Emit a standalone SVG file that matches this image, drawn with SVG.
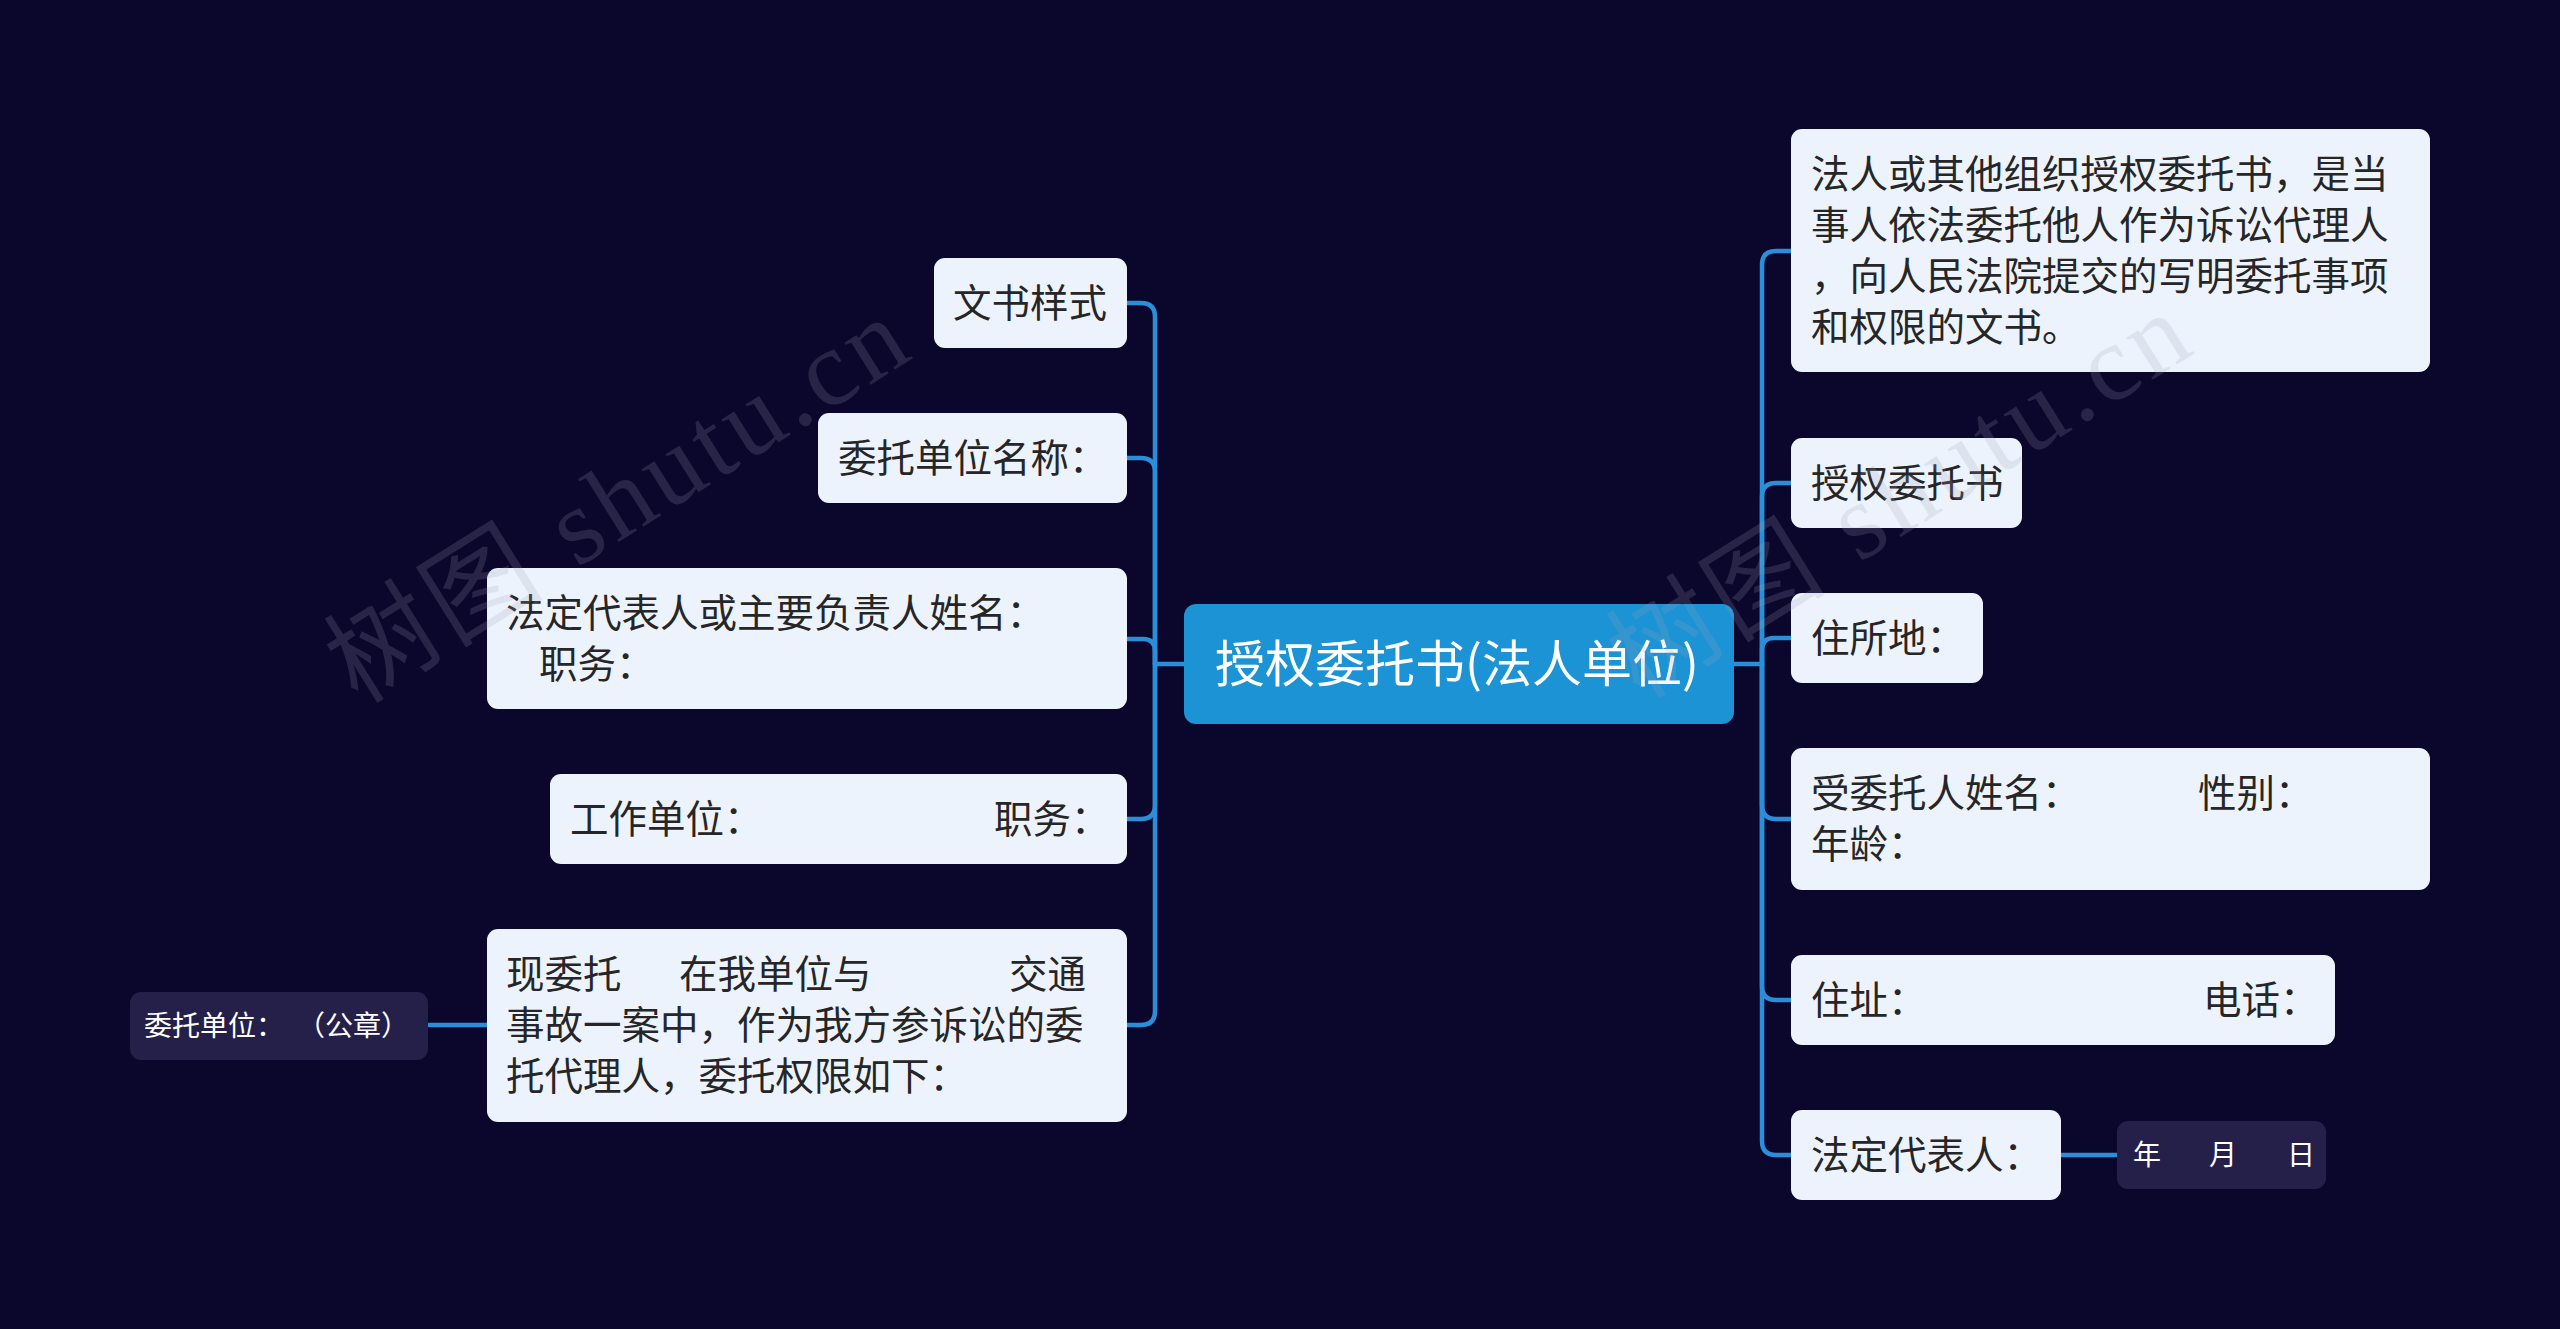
<svg xmlns="http://www.w3.org/2000/svg" width="2560" height="1329" viewBox="0 0 2560 1329">
<style>
.bg{fill:#0b062b}
.n{fill:#edf3fd}
.c{fill:#1b93d5}
.s{fill:#25204a}
.t{font-family:"Noto Sans CJK SC","Noto Sans",sans-serif;font-size:38.5px;fill:#262626}
.tc{font-family:"Noto Sans CJK SC","Noto Sans",sans-serif;font-size:50px;fill:#ffffff}
.ts{font-family:"Noto Sans CJK SC","Noto Sans",sans-serif;font-size:28px;fill:#ffffff}
.l{fill:none;stroke:#2a8fd8;stroke-width:4.5;stroke-linecap:round}
.wm{font-family:"Liberation Serif","Noto Sans CJK SC",serif;font-size:108px;fill:#a0a0b8;fill-opacity:0.2;letter-spacing:5px}
</style>
<rect class="bg" x="0" y="0" width="2560" height="1329"/>
<g id="connectors">
<path class="l" d="M1184,664 H1155"/>
<path class="l" d="M1155,664 V317 Q1155,303 1141,303 H1127"/>
<path class="l" d="M1155,664 V472 Q1155,458 1141,458 H1127"/>
<path class="l" d="M1155,664 V651 Q1155,639 1143,639 H1127"/>
<path class="l" d="M1155,664 V805 Q1155,819 1141,819 H1127"/>
<path class="l" d="M1155,664 V1011 Q1155,1025 1141,1025 H1127"/>
<path class="l" d="M429,1025 H487"/>
<path class="l" d="M1734,664 H1762"/>
<path class="l" d="M1762,664 V265 Q1762,251 1776,251 H1791"/>
<path class="l" d="M1762,664 V497 Q1762,483 1776,483 H1791"/>
<path class="l" d="M1762,664 V650 Q1762,638 1774,638 H1791"/>
<path class="l" d="M1762,664 V805 Q1762,819 1776,819 H1791"/>
<path class="l" d="M1762,664 V986 Q1762,1000 1776,1000 H1791"/>
<path class="l" d="M1762,664 V1141 Q1762,1155 1776,1155 H1791"/>
<path class="l" d="M2061,1155 H2117"/>
</g>
<g id="root">
<rect class="c" x="1184" y="604" width="550" height="120" rx="12"/>
<text class="tc" x="1457" y="682" text-anchor="middle">授权委托书(法人单位)</text>
</g>
<g id="n-wenshu">
<rect class="n" x="934" y="258" width="193" height="90" rx="11"/>
<text class="t" x="953" y="317">文书样式</text>
</g>
<g id="n-weituodanwei">
<rect class="n" x="818" y="413" width="309" height="90" rx="11"/>
<text class="t" x="838" y="472">委托单位名称：</text>
</g>
<g id="n-fadingdaibiao">
<rect class="n" x="487" y="568" width="640" height="141" rx="11"/>
<text class="t" x="506" y="627">法定代表人或主要负责人姓名：</text>
<text class="t" x="539" y="678">职务：</text>
</g>
<g id="n-gongzuo">
<rect class="n" x="550" y="774" width="577" height="90" rx="11"/>
<text class="t" x="570" y="833">工作单位：</text>
<text class="t" x="994" y="833">职务：</text>
</g>
<g id="n-xianweituo">
<rect class="n" x="487" y="929" width="640" height="193" rx="11"/>
<text class="t" x="506" y="988">现委托</text>
<text class="t" x="679" y="988">在我单位与</text>
<text class="t" x="1009" y="988">交通</text>
<text class="t" x="506" y="1039">事故一案中，作为我方参诉讼的委</text>
<text class="t" x="506" y="1090">托代理人，委托权限如下：</text>
</g>
<g id="n-gongzhang">
<rect class="s" x="130" y="992" width="298" height="68" rx="11"/>
<text class="ts" x="144" y="1036">委托单位：</text>
<text class="ts" x="297" y="1036">（公章）</text>
</g>
<g id="n-dingyi">
<rect class="n" x="1791" y="129" width="639" height="243" rx="11"/>
<text class="t" x="1811" y="188">法人或其他组织授权委托书，是当</text>
<text class="t" x="1811" y="239">事人依法委托他人作为诉讼代理人</text>
<text class="t" x="1811" y="290">，向人民法院提交的写明委托事项</text>
<text class="t" x="1811" y="341">和权限的文书。</text>
</g>
<g id="n-shouquan">
<rect class="n" x="1791" y="438" width="231" height="90" rx="11"/>
<text class="t" x="1811" y="497">授权委托书</text>
</g>
<g id="n-zhusuodi">
<rect class="n" x="1791" y="593" width="192" height="90" rx="11"/>
<text class="t" x="1811" y="652">住所地：</text>
</g>
<g id="n-shouweituoren">
<rect class="n" x="1791" y="748" width="639" height="142" rx="11"/>
<text class="t" x="1811" y="807">受委托人姓名：</text>
<text class="t" x="2198" y="807">性别：</text>
<text class="t" x="1811" y="858">年龄：</text>
</g>
<g id="n-zhuzhi">
<rect class="n" x="1791" y="955" width="544" height="90" rx="11"/>
<text class="t" x="1811" y="1014">住址：</text>
<text class="t" x="2203" y="1014">电话：</text>
</g>
<g id="n-fadingdaibiaoren">
<rect class="n" x="1791" y="1110" width="270" height="90" rx="11"/>
<text class="t" x="1811" y="1169">法定代表人：</text>
</g>
<g id="n-riqi">
<rect class="s" x="2117" y="1121" width="209" height="68" rx="11"/>
<text class="ts" x="2133" y="1165">年</text>
<text class="ts" x="2209" y="1165">月</text>
<text class="ts" x="2287" y="1165">日</text>
</g>
<g id="watermark">
<text class="wm" transform="translate(358,705) rotate(-32)">树图 shutu.cn</text>
<text class="wm" transform="translate(1640,700) rotate(-32)">树图 shutu.cn</text>
</g>
</svg>
